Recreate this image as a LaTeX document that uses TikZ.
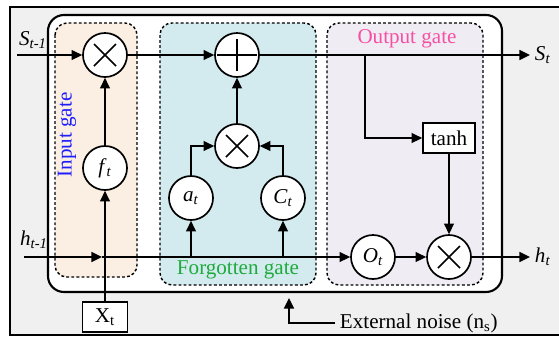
\documentclass[tikz,border=0pt]{standalone}
\usepackage{fontspec}
\setmainfont{Liberation Serif}
\usetikzlibrary{positioning, arrows.meta}
\definecolor{FrameFill}{RGB}{240,240,240}
\definecolor{InputFill}{RGB}{251,238,227}
\definecolor{ForgetFill}{RGB}{211,234,239}
\definecolor{OutputFill}{RGB}{239,237,243}
\definecolor{InputBlue}{RGB}{30,30,250}
\definecolor{OutputPink}{RGB}{246,79,165}
\definecolor{ForgetGreen}{RGB}{30,170,60}
\newcommand{\gv}[2]{\textit{#1}\textsubscript{\textit{#2}}}

\begin{document}
\begin{tikzpicture}[x=0.025cm, y=-0.025cm, font=\fontsize{15}{18}\selectfont]
        \tikzstyle{op} = [circle, draw, line width=1.2pt, fill=white,
          minimum size=1.1cm, inner sep=0pt]
        \tikzstyle{mult} = [op, path picture={
          \draw[line width=1.2pt] ([shift={(-11,-11)}]path picture bounding box.center)
            -- ([shift={(11,11)}]path picture bounding box.center);
          \draw[line width=1.2pt] ([shift={(-11,11)}]path picture bounding box.center)
            -- ([shift={(11,-11)}]path picture bounding box.center);}]
        \tikzstyle{plus} = [op, path picture={
          \draw[line width=1.2pt] ([shift={(-20,0)}]path picture bounding box.center)
            -- ([shift={(20,0)}]path picture bounding box.center);
          \draw[line width=1.2pt] ([shift={(0,-16)}]path picture bounding box.center)
            -- ([shift={(0,16)}]path picture bounding box.center);}]
        \tikzstyle{box} = [rectangle, draw, line width=1.2pt, fill=white,
          minimum height=0.75cm, inner sep=2pt]
        \tikzstyle{gate} = [line width=1pt, dash pattern=on 2pt off 1.6pt, rounded corners=0.3cm]
        \tikzstyle{arr} = [line width=1.2pt, -{Triangle[length=7.5pt, width=7pt]}]

        \useasboundingbox (0,0) rectangle (559,338);

        % frame, cell and the three gates
        \draw[line width=1.2pt, fill=FrameFill] (10,7) rectangle (575,335);
        \draw[line width=1.5pt, fill=white, rounded corners=0.4cm] (48,15) rectangle (502,292);
        \draw[gate, fill=InputFill] (55,23) rectangle (137,277);
        \draw[gate, fill=ForgetFill] (160,23) rectangle (316,285);
        \draw[gate, fill=OutputFill] (327,23) rectangle (483,285);

        \node[rotate=90, text=InputBlue] (inlbl) at (67,135) {Input gate};
        \node[text=ForgetGreen] (fglbl) at (238,270) {Forgotten gate};
        \node[text=OutputPink] (outlbl) at (407,39) {Output gate};

        % operators
        \node[mult] (mulS) at (105,55) {};
        \node[plus] (add) at (237,55) {};
        \node[mult] (mulF) at (237,146) {};
        \node[mult] (mulO) at (449,257) {};
        \node[op] (ft) at (105,168) {\gv{f}{t}};
        \node[op] (at) at (191,198) {\gv{a}{t}};
        \node[op] (ct) at (283,198) {\gv{C}{t}};
        \node[op] (ot) at (373,257) {\gv{O}{t}};
        \node[box, minimum width=1.3cm] (tanh) at (449,138) {tanh};
        \node[box, minimum width=1.125cm] (xt) at (105,317) {X\textsubscript{t}};

        % inputs and outputs
        \coordinate (sin) at (17,55);
        \coordinate (sout) at (530,55);
        \coordinate (hin) at (24,257);
        \coordinate (hmid) at (102,257);
        \coordinate (hout) at (530,257);
        \coordinate (split) at (365,55);
        \coordinate (noisein) at (289,298);
        \node (sprev) at (33,40) {\gv{S}{t-1}};
        \node (hprev) at (34,240) {\gv{h}{t-1}};
        \node[right=0pt of sout] (snext) {\gv{S}{t}};
        \node[right=0pt of hout] (hnext) {\gv{h}{t}};
        \node[anchor=west] (noise) at (335,323) {External noise (n\textsubscript{s})};

        % state line
        \draw[arr] (sin) -- (mulS);
        \draw[arr] (mulS) -- (add);
        \draw[arr] (add) -- (sout);
        \draw[arr] (split) |- (tanh);
        \draw[arr] (tanh) -- (mulO);

        % hidden line
        \draw[arr] (hin) -- (hmid);
        \draw[arr] (hmid) -- (ot);
        \draw[arr] (ot) -- (mulO);
        \draw[arr] (mulO) -- (hout);

        % input gate
        \draw[arr] (xt) -- (ft);
        \draw[arr] (ft) -- (mulS);

        % forgotten gate
        \draw[arr] (at |- hin) -- (at);
        \draw[arr] (ct |- hin) -- (ct);
        \draw[arr] (at) |- (mulF);
        \draw[arr] (ct) |- (mulF);
        \draw[arr] (mulF) -- (add);

        \draw[arr] (noise.west) -| (noisein);
      \end{tikzpicture}
\end{document}
